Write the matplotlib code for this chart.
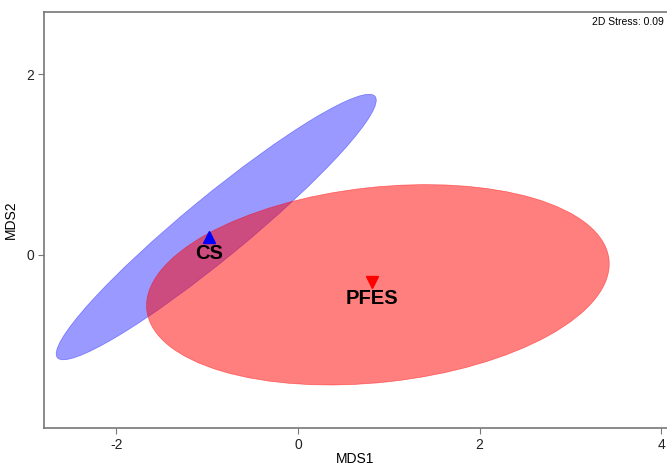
import matplotlib.pyplot as plt
from matplotlib.patches import Ellipse

plt.rcParams['font.family'] = ['Liberation Sans', 'DejaVu Sans']
plt.rcParams['axes.unicode_minus'] = False

# group centroids (MDS1, MDS2)
groups = ["CS", "PFES"]
cent_x = [-0.98, 0.81]
cent_y = [0.20, -0.30]
markers = ["^", "v"]
colors = ["blue", "red"]

# confidence ellipses: center, semi-axes, angle (deg)
ell_cx = [-0.90, 0.88]
ell_cy = [0.31, -0.33]
ell_a = [2.27, 2.56]
ell_b = [0.34, 1.08]
ell_ang = [39.6, 6.3]
ell_alpha = [0.4, 0.5]

stress = 0.09

fig = plt.figure(figsize=(6.67, 4.67), dpi=100)
ax = fig.add_axes([0.066, 0.0835, 0.934, 0.8908])

for i in range(len(groups)):
    e = Ellipse((ell_cx[i], ell_cy[i]), 2 * ell_a[i], 2 * ell_b[i], angle=ell_ang[i],
                facecolor=colors[i], alpha=ell_alpha[i], edgecolor=colors[i], lw=0.5)
    ax.add_patch(e)

for i in range(len(groups)):
    ax.plot(cent_x[i], cent_y[i], marker=markers[i], color=colors[i], ms=8, ls="none", zorder=5)
    ax.annotate(groups[i], (cent_x[i], cent_y[i]), xytext=(0, -12), textcoords="offset points",
                ha="center", va="center", fontsize=14.5, fontweight="bold", zorder=6)

ax.text(0.995, 0.988, "2D Stress: %.2f" % stress, transform=ax.transAxes,
        ha="right", va="top", fontsize=7.5)

ax.set_xlim(-2.796, 4.063)
ax.set_ylim(-1.916, 2.691)
ax.set_xticks([-2, 0, 2, 4])
ax.set_yticks([0, 2])
ax.set_xlabel("MDS1", fontsize=10, labelpad=0)
ax.set_ylabel("MDS2", fontsize=10, labelpad=6)

for s in ["left", "bottom", "top"]:
    ax.spines[s].set_color("#777777")
    ax.spines[s].set_linewidth(1.2)
ax.spines["right"].set_visible(False)
ax.tick_params(colors="#777777", labelcolor="#222222", labelsize=10, length=4.5, width=0.8, pad=2.5)

plt.savefig("out.png", dpi=100)
